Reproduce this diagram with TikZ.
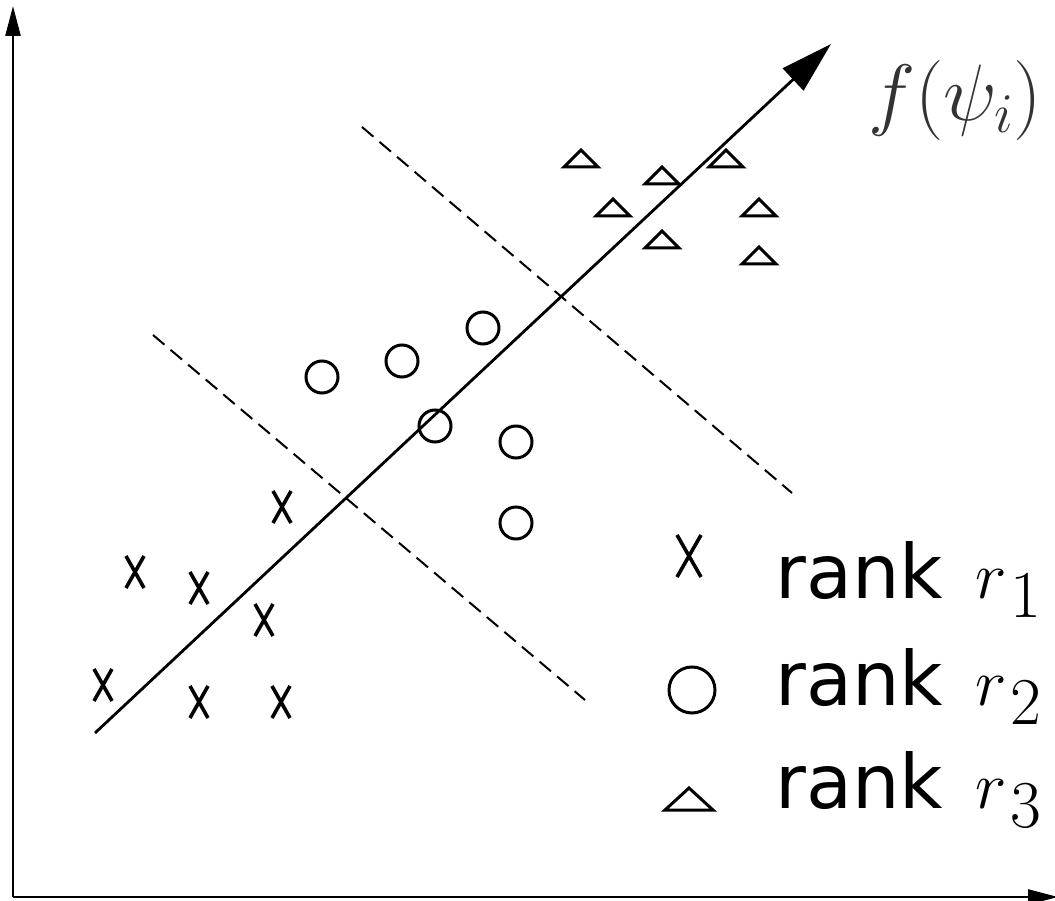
\RequirePackage{fix-cm}
\documentclass[tikz,border=0pt]{standalone}
\usepackage{fontspec}
\setmainfont{DejaVu Sans}
\usetikzlibrary{arrows.meta}
\tikzset{
  axis/.style={line width=2.6pt, -{Triangle[length=30pt,width=15pt]}},
  mainline/.style={line width=2.8pt, -{Triangle[length=52pt,width=30pt]}},
  sep/.style={line width=2pt, dash pattern=on 15pt off 8pt},
  mk/.style={line width=3pt},
  xm/.style={line width=3.6pt},
  lbl/.style={anchor=base west, inner sep=0pt, font=\fontsize{75}{80}\selectfont},
  mlbl/.style={anchor=base west, inner sep=0pt, font=\fontsize{67}{70}\selectfont},
}
\newcommand{\xmk}[4]{% x y halfwidth halfheight
  \draw[xm] (#1-#3,#2-#4) -- (#1+#3,#2+#4) (#1+#3,#2-#4) -- (#1-#3,#2+#4);}
\newcommand{\trmk}[4]{% apex x, apex y, halfwidth, height
  \draw[mk, line join=miter] (#1,#2) -- (#1+#3,#2+#4) -- (#1-#3,#2+#4) -- cycle;}
\newcommand{\rsub}[1]{$r$\hspace{4pt}\raisebox{-19pt}{$#1$}}
\begin{document}
\begin{tikzpicture}[x=1pt,y=-1pt]
\useasboundingbox (0,0) rectangle (1055,901);
% axes
\coordinate (o) at (13,897);
\coordinate (ytip) at (13,6);
\coordinate (xtip) at (1058,897);
\draw[axis] (o) -- (ytip);
\draw[axis] (o) -- (xtip);
% main direction
\coordinate (ms) at (95,733);
\coordinate (me) at (831,44);
\draw[mainline] (ms) -- (me);
% separators
\coordinate (d1s) at (153,335);
\coordinate (d1e) at (585,700);
\coordinate (d2s) at (362,127);
\coordinate (d2e) at (792,493);
\draw[sep] (d1s) -- (d1e);
\draw[sep] (d2s) -- (d2e);
% rank r1 crosses
\foreach \x/\y in {282/507,135/572,199/588,264/620,103/685,199/702,281/702}
  {\xmk{\x}{\y}{9}{16}}
% rank r2 circles
\foreach \x/\y in {322/377,402/361,483/328,435/426,516/442,516/523}
  {\draw[mk] (\x,\y) circle (16);}
% rank r3 triangles
\foreach \x/\y in {581/150,662/167,726/150,613/199,759/199,662/231,759/247}
  {\trmk{\x}{\y}{17}{17}}
% legend
\xmk{689}{556}{12}{21}
\draw[mk] (692,690) circle (23);
\trmk{689}{788}{24}{22}
\node[lbl] (l1) at (775,598) {rank};
\node[lbl] (l2) at (775,705) {rank};
\node[lbl] (l3) at (775,808) {rank};
\node[mlbl] (m1) at (975,598) {\rsub{1}};
\node[mlbl] (m2) at (975,705) {\rsub{2}};
\node[mlbl] (m3) at (975,808) {\rsub{3}};
% axis label
\node[anchor=base west, inner sep=0pt, text=black!80, font=\fontsize{80}{90}\selectfont] (fl) at (868,121) {$f(\psi_i)$};
\end{tikzpicture}
\end{document}
